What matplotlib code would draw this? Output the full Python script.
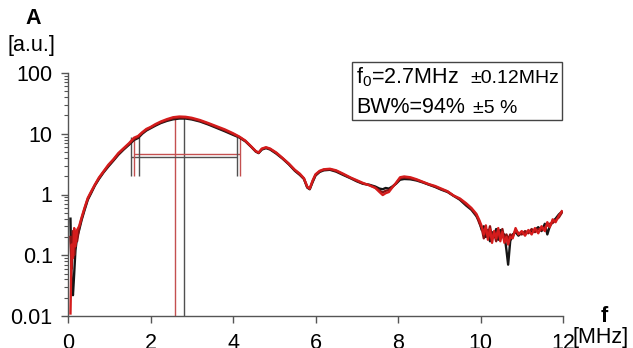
import numpy as np
import matplotlib
matplotlib.use("Agg")
import matplotlib.pyplot as plt
from matplotlib.patches import Rectangle

plt.rcParams['font.family'] = ['Liberation Sans', 'DejaVu Sans']

# frequency grid [MHz]
freq = [0.06, 0.09, 0.12, 0.15, 0.18, 0.22, 0.27, 0.33, 0.4, 0.48, 0.56, 0.65,
        0.75, 0.86, 0.98, 1.1, 1.22, 1.35, 1.48, 1.6, 1.7, 1.8, 1.9, 2.0, 2.12,
        2.25, 2.4, 2.55, 2.7, 2.85, 3.0, 3.2, 3.4, 3.6, 3.8, 4.0, 4.15, 4.3,
        4.45, 4.55, 4.62, 4.7, 4.8, 4.9, 5.05, 5.2, 5.35, 5.5, 5.62, 5.72, 5.8,
        5.86, 5.93, 6.0, 6.1, 6.2, 6.35, 6.5, 6.67, 6.85, 7.0, 7.15, 7.3, 7.45,
        7.55, 7.63, 7.7, 7.78, 7.86, 7.95, 8.05, 8.15, 8.3, 8.45, 8.6, 8.75,
        8.9, 9.05, 9.2, 9.35, 9.5, 9.65, 9.78, 9.9,
        9.97, 10.03, 10.08, 10.13, 10.18, 10.23, 10.28, 10.33, 10.38, 10.43,
        10.48, 10.53, 10.58, 10.63, 10.67, 10.72, 10.78, 10.85, 10.92, 11.0,
        11.08, 11.16, 11.24, 11.32, 11.4, 11.48, 11.56, 11.62, 11.68, 11.75,
        11.82, 11.9, 11.97]

amp_black = [0.4, 0.03, 0.022, 0.05, 0.12, 0.2, 0.26, 0.38, 0.55, 0.82, 1.05, 1.4,
             1.8, 2.3, 2.9, 3.6, 4.5, 5.5, 6.6, 7.9, 8.5, 10.0, 11.3, 12.3, 13.6,
             15.0, 16.3, 17.3, 17.8, 17.8, 17.2, 15.9, 14.2, 12.5, 11.0, 9.6, 8.7, 7.5,
             6.0, 5.1, 4.8, 5.5, 5.8, 5.5, 4.7, 3.9, 3.15, 2.45, 2.1, 1.8, 1.3,
             1.22, 1.6, 2.05, 2.35, 2.5, 2.55, 2.38, 2.1, 1.85, 1.65, 1.5, 1.45, 1.35,
             1.25, 1.22, 1.28, 1.25, 1.35, 1.5, 1.75, 1.8, 1.78, 1.7, 1.58, 1.45,
             1.33, 1.2, 1.1, 0.95, 0.82, 0.66, 0.56, 0.44,
             0.36, 0.26, 0.3, 0.2, 0.26, 0.17, 0.24, 0.2, 0.27, 0.18,
             0.26, 0.2, 0.22, 0.12, 0.07, 0.17, 0.22, 0.24, 0.21, 0.24,
             0.23, 0.25, 0.24, 0.26, 0.29, 0.25, 0.33, 0.22, 0.3, 0.36,
             0.4, 0.47, 0.52]

amp_dark = [0.2, 0.06, 0.25, 0.1, 0.22, 0.17, 0.28, 0.4, 0.58, 0.85, 1.08, 1.42,
            1.85, 2.35, 3.0, 3.7, 4.65, 5.65, 6.8, 8.2, 8.9, 10.3, 11.6, 12.6, 14.0,
            15.4, 16.8, 18.0, 18.5, 18.4, 17.7, 16.3, 14.6, 12.9, 11.4, 9.9, 8.85, 7.6,
            6.05, 5.15, 4.85, 5.6, 5.9, 5.6, 4.8, 3.95, 3.2, 2.5, 2.15, 1.82, 1.32,
            1.24, 1.65, 2.1, 2.4, 2.55, 2.6, 2.44, 2.15, 1.88, 1.68, 1.52, 1.43, 1.3,
            1.16, 1.08, 1.15, 1.18, 1.32, 1.52, 1.85, 1.9, 1.85, 1.74, 1.6, 1.46,
            1.35, 1.22, 1.12, 0.95, 0.84, 0.69, 0.58, 0.46,
            0.34, 0.28, 0.19, 0.27, 0.21, 0.3, 0.19, 0.23, 0.17, 0.25,
            0.2, 0.27, 0.18, 0.22, 0.18, 0.22, 0.2, 0.26, 0.23, 0.22,
            0.25, 0.23, 0.27, 0.24, 0.27, 0.26, 0.29, 0.31, 0.33, 0.34,
            0.38, 0.42, 0.5]

amp_red = [0.011, 0.15, 0.09, 0.28, 0.14, 0.26, 0.3, 0.42, 0.6, 0.88, 1.12, 1.45,
           1.9, 2.4, 3.1, 3.8, 4.8, 5.8, 7.0, 8.6, 9.2, 10.6, 12.0, 12.9, 14.4,
           15.9, 17.4, 18.7, 19.2, 19.0, 18.3, 16.8, 15.0, 13.3, 11.8, 10.2, 9.0, 7.7,
           6.1, 5.2, 4.9, 5.7, 6.0, 5.7, 4.9, 4.0, 3.25, 2.55, 2.2, 1.85, 1.35,
           1.25, 1.7, 2.15, 2.45, 2.6, 2.65, 2.5, 2.2, 1.9, 1.72, 1.55, 1.42, 1.28,
           1.1, 0.98, 1.05, 1.1, 1.3, 1.55, 1.92, 1.98, 1.92, 1.78, 1.62, 1.48,
           1.38, 1.25, 1.13, 0.96, 0.86, 0.72, 0.6, 0.48,
           0.38, 0.3, 0.22, 0.31, 0.18, 0.27, 0.16, 0.25, 0.19, 0.28,
           0.17, 0.24, 0.16, 0.2, 0.15, 0.2, 0.19, 0.28, 0.22, 0.25,
           0.21, 0.26, 0.22, 0.28, 0.23, 0.3, 0.25, 0.35, 0.29, 0.39,
           0.35, 0.45, 0.53]

# centre frequency and -6 dB band markers
f0_red, f0_dark = 2.60, 2.80
f0_top = 18.0
band_red = (1.61, 4.17, 4.7)     # f_low, f_high, level
band_dark = (1.53, 4.10, 4.1)
ticks_dark = [1.53, 1.72, 4.10]
ticks_red = [1.61, 4.17]
tick_low, tick_high = 2.0, 8.8

c_black = '#151515'
c_dark = '#8a1212'
c_red = '#d41c1c'
c_mark_red = '#c45050'
c_mark_dark = '#505050'

fig = plt.figure(figsize=(6.33, 3.48), dpi=100)
ax = fig.add_axes([68/633, 1-316/348, (563-68)/633, (316-73)/348])

ax.plot(freq, amp_black, color=c_black, lw=1.7, zorder=3)
ax.plot(freq, amp_dark, color=c_dark, lw=1.7, zorder=4)
ax.plot(freq, amp_red, color=c_red, lw=1.7, zorder=5)

ax.vlines(f0_red, 0.01, f0_top, color=c_mark_red, lw=1.0, zorder=2)
ax.vlines(f0_dark, 0.01, f0_top, color=c_mark_dark, lw=1.0, zorder=2)
ax.hlines(band_red[2], band_red[0], band_red[1], color=c_mark_red, lw=1.0, zorder=2)
ax.hlines(band_dark[2], band_dark[0], band_dark[1], color=c_mark_dark, lw=1.0, zorder=2)
ax.vlines(ticks_dark, tick_low, tick_high, color=c_mark_dark, lw=1.0, zorder=2)
ax.vlines(ticks_red, tick_low, tick_high, color=c_mark_red, lw=1.0, zorder=2)

ax.set_yscale('log')
ax.set_ylim(0.01, 100)
ax.set_xlim(0, 12)
ax.set_xticks([0, 2, 4, 6, 8, 10, 12])
ax.set_xticklabels(['0', '2', '4', '6', '8', '10', '12'])
ax.set_yticks([0.01, 0.1, 1, 10, 100])
ax.set_yticklabels(['0.01', '0.1', '1', '10', '100'])

for s in ['top', 'right']:
    ax.spines[s].set_visible(False)
for s in ['left', 'bottom']:
    ax.spines[s].set_color('#555555')
    ax.spines[s].set_linewidth(1.0)
ax.tick_params(axis='both', which='major', direction='out', length=5,
               width=1.0, color='#555555', labelsize=15.5)
ax.tick_params(axis='x', pad=7)
ax.tick_params(axis='y', pad=6)
ax.tick_params(axis='y', which='minor', direction='out', length=3,
               width=0.8, color='#555555')

fig.text(33/633, 1-19/348, 'A', fontsize=15.5, fontweight='bold',
         ha='center', va='center')
fig.text(31/633, 1-45/348, '[a.u.]', fontsize=15.5, ha='center', va='center')
fig.text(604/633, 1-317/348, 'f', fontsize=15.5, fontweight='bold',
         ha='center', va='center')
fig.text(601/633, 1-338/348, '[MHz]', fontsize=15.5, ha='center', va='center')

# parameter box
fig.patches.append(Rectangle((352/633, 1-120/348), 210/633, 58/348,
                             transform=fig.transFigure, fill=False,
                             edgecolor='#444444', lw=1.0))
fig.text(356/633, 1-83/348, r'f$_{\mathregular{0}}$=2.7MHz', fontsize=15.5,
         ha='left', va='baseline')
fig.text(470/633, 1-83/348, '\u00b10.12MHz', fontsize=14,
         ha='left', va='baseline')
fig.text(356/633, 1-113/348, 'BW%=94%', fontsize=15.5,
         ha='left', va='baseline')
fig.text(473/633, 1-113/348, '\u00b15 %', fontsize=14,
         ha='left', va='baseline')

fig.savefig('out.png', dpi=100)
